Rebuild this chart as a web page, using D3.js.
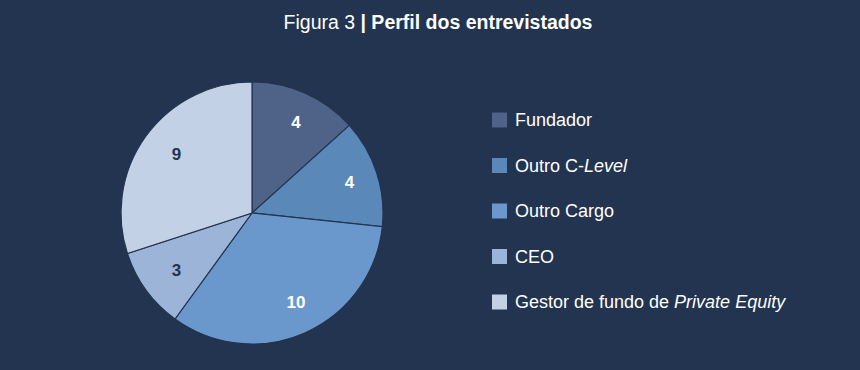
<!DOCTYPE html>
<html><head><meta charset="utf-8">
<script src="https://cdn.jsdelivr.net/npm/d3@7"></script>
<style>
html,body{margin:0;padding:0;background:#22344f;}
svg{display:block;font-family:"Liberation Sans",Arial,Helvetica,sans-serif;}
</style></head>
<body><svg id="chart" width="860" height="370"></svg>
<script>
const categories = ["Fundador", "Outro C-Level", "Outro Cargo", "CEO", "Gestor de fundo de Private Equity"];
const values = [4, 4, 10, 3, 9];
// legend label pieces: [text, italic]
const legendParts = [
  [["Fundador", false]],
  [["Outro C-", false], ["Level", true]],
  [["Outro Cargo", false]],
  [["CEO", false]],
  [["Gestor de fundo de ", false], ["Private Equity", true]]
];
const colors = ["#4f6389", "#5a88b8", "#6a98cc", "#9bb4d8", "#c2d1e6"];
const labelColors = ["#ffffff", "#ffffff", "#ffffff", "#22344f", "#22344f"];

const svg = d3.select("#chart");
const bg = "#22344f";
svg.append("rect").attr("width", 860).attr("height", 370).attr("fill", bg);

// Title
const title = svg.append("text").attr("x", 438).attr("y", 29)
  .attr("text-anchor", "middle").attr("font-size", 19.5).attr("fill", "#ffffff");
title.append("tspan").text("Figura 3 ");
title.append("tspan").attr("font-weight", "bold").text("| Perfil dos entrevistados");

const cx = 252, cy = 213, r = 131;
const color = d3.scaleOrdinal().domain(categories).range(colors);
const pie = d3.pie().sort(null).value(d => d.v);
const data = pie(categories.map((c, i) => ({c, v: values[i], i})));
const arc = d3.arc().innerRadius(0).outerRadius(r);
const labelArc = d3.arc().innerRadius(r * 0.75).outerRadius(r * 0.75);

const g = svg.append("g").attr("transform", `translate(${cx},${cy})`);
g.selectAll("path").data(data).join("path")
  .attr("d", arc).attr("fill", d => color(d.data.c))
  .attr("stroke", bg).attr("stroke-width", 1.2);
g.append("g").attr("transform", "translate(4,-1)")
  .selectAll("text").data(data).join("text")
  .attr("transform", d => `translate(${labelArc.centroid(d)})`)
  .attr("text-anchor", "middle").attr("dy", "0.36em")
  .attr("font-size", 17).attr("font-weight", "bold")
  .attr("fill", d => labelColors[d.data.i])
  .text(d => d.data.v);

// Legend
const ly = d3.scalePoint().domain(categories).range([120, 302]);
const lg = svg.append("g");
categories.forEach((c, i) => {
  const y = ly(c);
  lg.append("rect").attr("x", 492).attr("y", y - 7.5).attr("width", 15).attr("height", 15)
    .attr("fill", color(c));
  const t = lg.append("text").attr("x", 515).attr("y", y).attr("dy", "0.36em")
    .attr("font-size", 18).attr("fill", "#ffffff");
  legendParts[i].forEach(([s, it]) => {
    t.append("tspan").attr("font-style", it ? "italic" : "normal").text(s);
  });
});
</script></body></html>
